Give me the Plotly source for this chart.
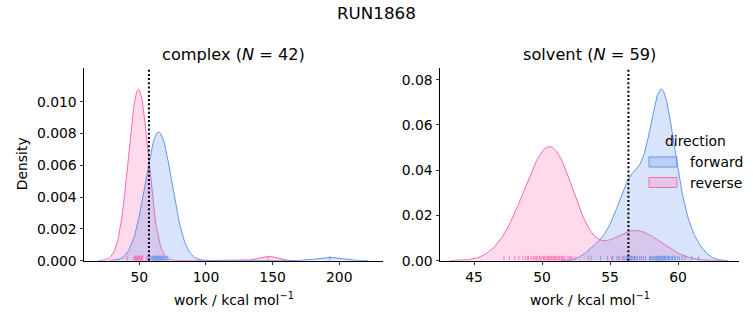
import numpy as np
import plotly.graph_objects as go

# ---------------- data ----------------
phases = ["complex", "solvent"]
n_pairs = [42, 59]
directions = ["forward", "reverse"]

complex_forward = [56.7, 58.2, 59.4, 60.1, 60.8, 61.3, 61.7, 62.1, 62.4, 62.8, 63.1,
                   63.4, 63.7, 64.0, 64.2, 64.5, 64.7, 65.0, 65.3, 65.5, 65.8, 66.1,
                   66.4, 66.7, 67.0, 67.4, 67.8, 68.2, 68.7, 69.3, 70.1, 71.3, 61.0,
                   62.6, 63.9, 64.9, 65.6, 66.3, 63.2, 64.4, 67.2, 193.0]
complex_reverse = [41.0, 46.3, 47.2, 46.0, 46.6, 47.0, 47.3, 47.6, 47.8, 48.0, 48.2,
                   48.4, 48.6, 48.7, 48.9, 49.0, 49.1, 49.3, 49.4, 49.5, 49.6, 49.8,
                   49.9, 50.0, 50.2, 50.3, 50.5, 50.7, 50.9, 51.1, 51.3, 51.5, 51.8,
                   52.1, 52.5, 50.4, 51.2, 55.5, 48.5, 49.7, 50.1, 146.5]
solvent_forward = [53.6, 54.3, 54.8, 55.2, 55.5, 55.7, 55.9, 56.1, 56.2, 56.3, 56.4,
                   56.5, 56.6, 56.7, 56.8, 56.9, 57.0, 57.15, 57.3, 57.45,
                   57.6, 58.7, 57.9, 58.0, 58.1, 58.2, 58.3, 58.35, 58.4, 58.45,
                   58.5, 58.55, 58.6, 58.65, 58.7, 58.75, 58.8, 58.85, 58.9, 58.95,
                   59.0, 59.05, 59.1, 59.2, 59.3, 59.4, 59.5, 59.6, 59.7, 59.8,
                   59.95, 60.1, 60.3, 60.5, 59.1, 61.0, 61.5, 58.82, 58.62]
solvent_reverse = [47.2, 47.6, 48.0, 48.3, 48.6, 48.8, 49.0, 49.2, 49.4, 49.5, 49.7,
                   49.8, 49.9, 50.0, 50.1, 50.2, 50.3, 50.4, 50.5, 50.6, 50.7, 50.8,
                   50.9, 51.0, 51.1, 51.2, 51.3, 51.4, 51.5, 51.6, 51.7, 51.9, 52.0,
                   52.2, 52.4, 50.55, 51.45, 53.4, 49.6, 50.45, 50.85, 51.25, 49.35,
                   48.95, 51.05, 50.15, 52.1,
                   55.1, 55.6, 56.0, 56.3, 56.6, 56.8, 57.0, 57.3, 57.6, 58.0, 58.5,
                   59.3]
dg_estimates = [57.2, 56.35]

x_ticks = [[50, 100, 150, 200], [45, 50, 55, 60]]
y_ticks = [[0.000, 0.002, 0.004, 0.006, 0.008, 0.010],
           [0.00, 0.02, 0.04, 0.06, 0.08]]
y_ticklabels = [["0.000", "0.002", "0.004", "0.006", "0.008", "0.010"],
                ["0.00", "0.02", "0.04", "0.06", "0.08"]]

# ---------------- style ----------------
W, H = 753, 325          # reference picture size (layout measured in it)
FIG_H = 333              # page height the capture scales down to 325
FONT = "DejaVu Sans"
colors = {"forward": "#6495ED", "reverse": "#FF69B4"}
fills = {"forward": "rgba(100,149,237,0.25)", "reverse": "rgba(255,105,180,0.25)"}
x_dom = [[84 / W, 383 / W], [440 / W, 739.3 / W]]
y_dom = [(H - 260.7) / H, (H - 67.7) / H]
x_ranges = [[8.5, 232.8], [42.5, 64.5]]
y_ranges = [[0, 0.01215], [0, 0.0853]]

groups = {
    ("complex", "forward"): complex_forward,
    ("complex", "reverse"): complex_reverse,
    ("solvent", "forward"): solvent_forward,
    ("solvent", "reverse"): solvent_reverse,
}
n_total = sum(len(v) for v in groups.values())


def kde(samples, weight, gridsize=200, cut=3):
    x = np.asarray(samples, dtype=float)
    n = len(x)
    bw = x.std(ddof=1) * n ** (-0.2)
    grid = np.linspace(x.min() - cut * bw, x.max() + cut * bw, gridsize)
    dens = np.exp(-0.5 * ((grid[:, None] - x[None, :]) / bw) ** 2).sum(1)
    dens /= n * bw * np.sqrt(2 * np.pi)
    return grid, dens * weight


def px_x(p):
    return p / W


def px_y(p):
    return (H - p) / H


fig = go.Figure()
for i, phase in enumerate(phases):
    xa = "x" if i == 0 else "x2"
    ya = "y" if i == 0 else "y2"
    ya_rug = "y3" if i == 0 else "y4"
    for direction in ["reverse", "forward"]:
        vals = groups[(phase, direction)]
        gx, gy = kde(vals, len(vals) / n_total)
        fig.add_trace(go.Scatter(
            x=gx, y=gy, mode="lines", fill="tozeroy",
            fillcolor=fills[direction],
            line=dict(color=colors[direction], width=1),
            name=direction, showlegend=False, xaxis=xa, yaxis=ya,
            hoverinfo="skip"))
    for direction in ["reverse", "forward"]:
        vals = groups[(phase, direction)]
        rx, ry = [], []
        for v in vals:
            rx += [v, v, None]
            ry += [0, 0.025, None]
        fig.add_trace(go.Scatter(
            x=rx, y=ry, mode="lines",
            line=dict(color=colors[direction], width=1),
            opacity=0.8, showlegend=False, xaxis=xa, yaxis=ya_rug,
            hoverinfo="skip"))
    fig.add_shape(type="line", xref=xa, yref=f"{ya} domain",
                  x0=dg_estimates[i], x1=dg_estimates[i], y0=0, y1=1,
                  line=dict(color="black", width=2, dash="2px,2.2px"))
    fig.add_annotation(
        text=f"{phase} (<i>N</i> = {n_pairs[i]})", xref="paper", yref="paper",
        x=(x_dom[i][0] + x_dom[i][1]) / 2, y=px_y(54),
        xanchor="center", yanchor="middle", showarrow=False,
        font=dict(family=FONT, size=16.2, color="black"))
    fig.add_annotation(
        text="work / kcal mol<sup>−1</sup>", xref="paper", yref="paper",
        x=(x_dom[i][0] + x_dom[i][1]) / 2, y=px_y(299),
        xanchor="center", yanchor="middle", showarrow=False,
        font=dict(family=FONT, size=13.9, color="black"))

fig.add_annotation(text="RUN1868", xref="paper", yref="paper", x=0.5,
                   y=px_y(13), xanchor="center", yanchor="middle",
                   showarrow=False, font=dict(family=FONT, size=16.7, color="black"))
fig.add_annotation(text="Density", xref="paper", yref="paper", x=px_x(22),
                   y=(y_dom[0] + y_dom[1]) / 2, xanchor="center", yanchor="middle",
                   textangle=-90, showarrow=False,
                   font=dict(family=FONT, size=13.9, color="black"))

# legend (drawn as patches + labels, like the matplotlib legend)
fig.add_annotation(text="direction", xref="paper", yref="paper", x=px_x(695),
                   y=px_y(141), xanchor="center", yanchor="middle",
                   showarrow=False, font=dict(family=FONT, size=13.9, color="black"))
for k, direction in enumerate(directions):
    yc = 162 + 20.5 * k
    fig.add_shape(type="rect", xref="paper", yref="paper",
                  x0=px_x(649), x1=px_x(677), y0=px_y(yc - 5), y1=px_y(yc + 5),
                  fillcolor=fills[direction],
                  line=dict(color=colors[direction], width=1))
    fig.add_annotation(text=direction, xref="paper", yref="paper", x=px_x(688),
                       y=px_y(yc), xanchor="left", yanchor="middle",
                       showarrow=False,
                       font=dict(family=FONT, size=13.9, color="black"))

axis_common = dict(showline=True, linecolor="black", linewidth=1, mirror=False,
                   ticks="outside", ticklen=3.5, tickwidth=0.8, tickcolor="black",
                   showgrid=False, zeroline=False,
                   tickfont=dict(family=FONT, size=13.9, color="black"))

fig.update_layout(
    width=W, height=FIG_H, margin=dict(l=0, r=0, t=0, b=0),
    plot_bgcolor="white", paper_bgcolor="white",
    xaxis=dict(domain=x_dom[0], range=x_ranges[0], anchor="y",
               tickvals=x_ticks[0], **axis_common),
    yaxis=dict(domain=y_dom, range=y_ranges[0], anchor="x",
               tickvals=y_ticks[0], ticktext=y_ticklabels[0], **axis_common),
    xaxis2=dict(domain=x_dom[1], range=x_ranges[1], anchor="y2",
                tickvals=x_ticks[1], **axis_common),
    yaxis2=dict(domain=y_dom, range=y_ranges[1], anchor="x2",
                tickvals=y_ticks[1], ticktext=y_ticklabels[1], **axis_common),
    yaxis3=dict(overlaying="y", anchor="x", range=[0, 1], visible=False),
    yaxis4=dict(overlaying="y2", anchor="x2", range=[0, 1], visible=False),
    showlegend=False,
)

fig.write_html(
    "out.html",
    config={"displayModeBar": False, "staticPlot": True},
    post_script=(
        "var de=document.documentElement, b=document.body;"
        "de.style.margin='0'; de.style.padding='0'; de.style.overflow='hidden';"
        "b.style.margin='0'; b.style.padding='0'; b.style.overflow='hidden';"
    ),
)
